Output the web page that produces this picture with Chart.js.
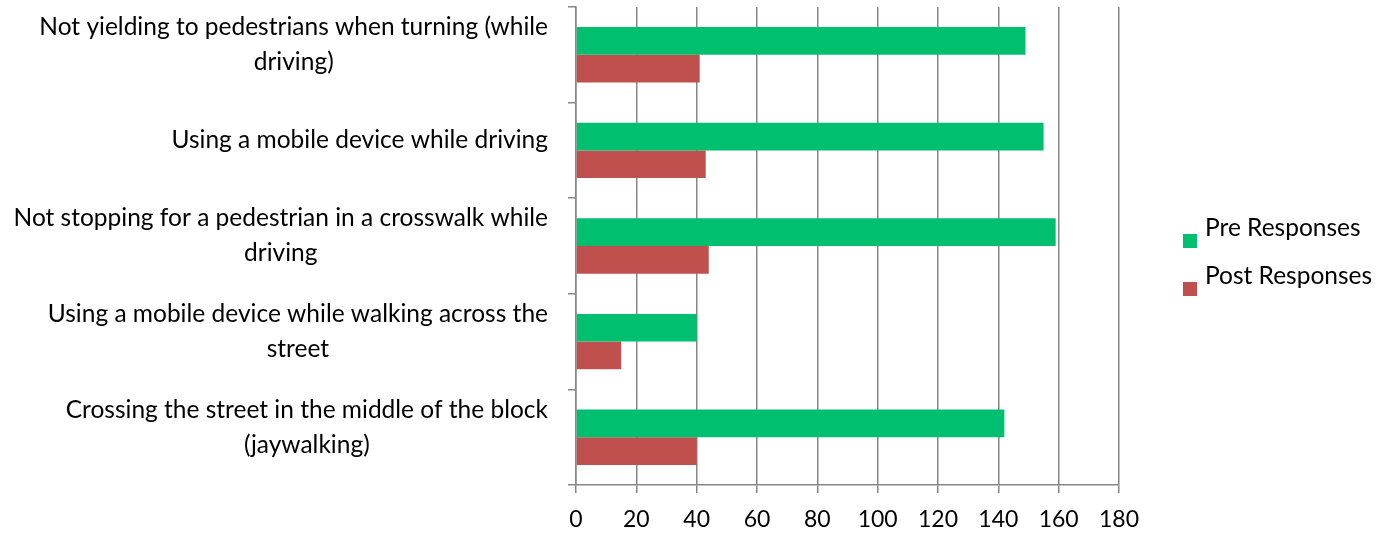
<!DOCTYPE html>
<html>
<head>
<meta charset="utf-8">
<script src="https://cdn.jsdelivr.net/npm/chart.js@4"></script>
<style>
  html, body { margin: 0; padding: 0; background: #fff; }
  #wrap { width: 1389px; height: 534px; }
</style>
</head>
<body>
<div id="wrap"><canvas id="chart" width="1389" height="534"></canvas></div>
<script>
// Category labels (already wrapped into lines)
const categories = [
    ['Not yielding to pedestrians when turning (while', 'driving)'],
    ['Using a mobile device while driving'],
    ['Not stopping for a pedestrian in a crosswalk while', 'driving'],
    ['Using a mobile device while walking across the', 'street'],
    ['Crossing the street in the middle of the block', '(jaywalking)']
];
const preResponses = [149, 155, 159, 40, 142];
const postResponses = [41, 43, 44, 15, 40];
const xTicks = [0, 20, 40, 60, 80, 100, 120, 140, 160, 180];

const FONT = 'Lato, "Open Sans", sans-serif';
const gridColor = '#868686';

// Draws the wrapped category labels: block right-aligned, lines centred
const categoryLabels = {
    id: 'categoryLabels',
    afterDraw(chart) {
        const ctx = chart.ctx;
        const y = chart.scales.y;
        ctx.save();
        ctx.font = '24.5px ' + FONT;
        ctx.fillStyle = '#000';
        ctx.textAlign = 'center';
        ctx.textBaseline = 'middle';
        const lineH = 35;
        categories.forEach(function(lines, i) {
            const widest = Math.max(...lines.map(l => ctx.measureText(l).width));
            const cx = y.right - 28 - widest / 2;
            const cy = y.getPixelForValue(i) - 10;
            const top = cy - (lines.length - 1) * lineH / 2;
            lines.forEach(function(line, j) {
                ctx.fillText(line, cx, top + j * lineH);
            });
        });
        ctx.restore();
    }
};

// Legend at the right, Excel style
const sideLegend = {
    id: 'sideLegend',
    afterDraw(chart) {
        const ctx = chart.ctx;
        const area = chart.chartArea;
        const x = area.right + 64;
        const mid = (area.top + area.bottom) / 2;
        ctx.save();
        ctx.font = '24.5px ' + FONT;
        ctx.textAlign = 'left';
        ctx.textBaseline = 'middle';
        chart.data.datasets.forEach(function(ds, i) {
            const by = mid - 12 + i * 48;
            ctx.fillStyle = ds.backgroundColor;
            ctx.fillRect(x, by, 14, 14);
            ctx.fillStyle = '#000';
            ctx.fillText(ds.label, x + 22, by - 6);
        });
        ctx.restore();
    }
};

const ctx = document.getElementById('chart').getContext('2d');
const chart = new Chart(ctx, {
    type: 'bar',
    data: {
        labels: categories,
        datasets: [
            {
                label: 'Pre Responses',
                data: preResponses,
                backgroundColor: '#00BF6F',
                categoryPercentage: 0.58,
                barPercentage: 1
            },
            {
                label: 'Post Responses',
                data: postResponses,
                backgroundColor: '#C0504D',
                categoryPercentage: 0.58,
                barPercentage: 1
            }
        ]
    },
    options: {
        indexAxis: 'y',
        responsive: false,
        animation: false,
        layout: {
            padding: { top: 7, right: 270, left: 0, bottom: 0 }
        },
        plugins: {
            legend: { display: false },
            tooltip: { enabled: false }
        },
        scales: {
            x: {
                min: 0,
                max: 180,
                afterBuildTicks: function(scale) {
                    scale.ticks = xTicks.map(v => ({ value: v }));
                },
                afterFit: function(scale) {
                    scale.height = 49;
                },
                grid: {
                    color: gridColor,
                    lineWidth: 1.5,
                    tickLength: 8
                },
                border: { color: gridColor, width: 1.5 },
                ticks: {
                    color: '#000',
                    padding: 13,
                    font: { family: FONT, size: 23 }
                }
            },
            y: {
                afterFit: function(scale) {
                    scale.width = 576;
                },
                grid: {
                    offset: true,
                    drawOnChartArea: false,
                    color: gridColor,
                    lineWidth: 1.5,
                    tickLength: 8
                },
                border: { color: gridColor, width: 1.5 },
                ticks: { display: false }
            }
        }
    },
    plugins: [categoryLabels, sideLegend]
});
</script>
</body>
</html>
